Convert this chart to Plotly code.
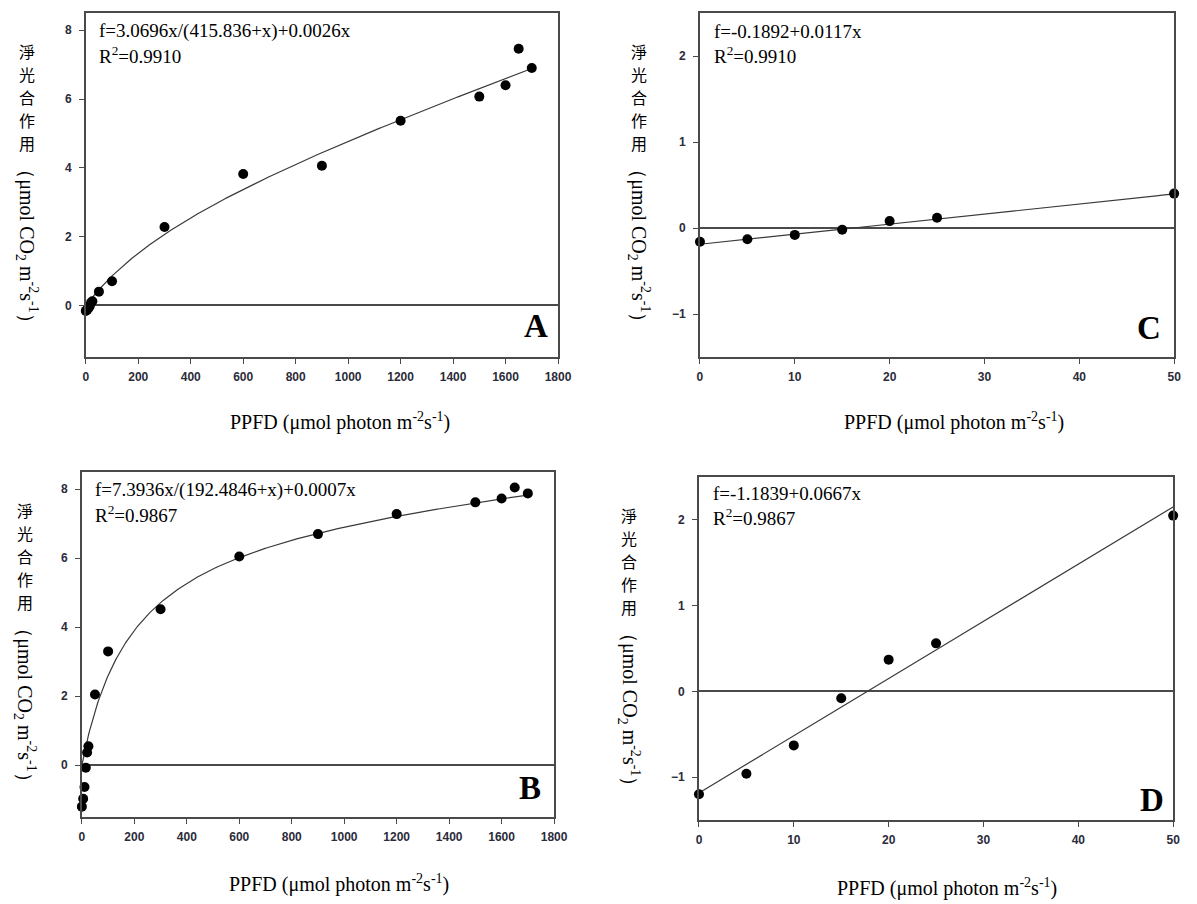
import numpy as np
import plotly.graph_objects as go

W, H = 1197, 904

# ---------------- data ----------------
ppfd_full = [0, 5, 10, 15, 20, 25, 50, 100, 300, 600, 900, 1200, 1500, 1600, 1650, 1700]
ppfd_low = [0, 5, 10, 15, 20, 25, 50]

A_y = [-0.16, -0.13, -0.08, -0.02, 0.08, 0.12, 0.40, 0.70, 2.28, 3.82, 4.06, 5.37, 6.07, 6.40, 7.46, 6.90]
B_y = [-1.20, -0.97, -0.63, -0.07, 0.37, 0.55, 2.05, 3.30, 4.52, 6.05, 6.70, 7.28, 7.62, 7.73, 8.05, 7.88]
C_y = [-0.16, -0.13, -0.08, -0.02, 0.08, 0.12, 0.40]
D_y = [-1.20, -0.96, -0.63, -0.08, 0.37, 0.56, 2.05]

# fitted model parameters (as printed on the chart)
A_fit = (3.0696, 415.836, 0.0026)   # f = a x /(b + x) + c x
B_fit = (7.3936, 192.4846, 0.0007)
C_fit = (-0.1892, 0.0117)           # f = a + b x
D_fit = (-1.1839, 0.0667)

eq_text = {
    "A": ("f=3.0696x/(415.836+x)+0.0026x", "R<sup>2</sup>=0.9910"),
    "B": ("f=7.3936x/(192.4846+x)+0.0007x", "R<sup>2</sup>=0.9867"),
    "C": ("f=-0.1892+0.0117x", "R<sup>2</sup>=0.9910"),
    "D": ("f=-1.1839+0.0667x", "R<sup>2</sup>=0.9867"),
}

x_big_ticks = [0, 200, 400, 600, 800, 1000, 1200, 1400, 1600, 1800]
y_big_ticks = [0, 2, 4, 6, 8]
x_small_ticks = [0, 10, 20, 30, 40, 50]
y_small_ticks = [-1, 0, 1, 2]

# ---------------- layout geometry (pixels) ----------------
boxes = {
    "A": (84, 13, 563, 357),
    "B": (80, 472, 559, 817),
    "C": (707, 13, 1188, 357),
    "D": (706, 477, 1187, 820),
}

def px(x):
    return x / W

def py(y):
    return 1 - y / H

serif = "Liberation Serif, Times New Roman, serif"
sans = "Arial, Liberation Sans, sans-serif"
cjk = "Noto Sans CJK TC, Noto Sans CJK SC, sans-serif"
axis_col = "#4a4a4a"
tick_col = "#2b2b3a"

fig = go.Figure()

panels = [
    ("A", 1, ppfd_full, A_y, "mm", A_fit, [0, 1800], [-1.5, 8.5], x_big_ticks, y_big_ticks),
    ("B", 2, ppfd_full, B_y, "mm", B_fit, [0, 1800], [-1.5, 8.5], x_big_ticks, y_big_ticks),
    ("C", 3, ppfd_low, C_y, "lin", C_fit, [0, 50], [-1.5, 2.5], x_small_ticks, y_small_ticks),
    ("D", 4, ppfd_low, D_y, "lin", D_fit, [0, 50], [-1.5, 2.5], x_small_ticks, y_small_ticks),
]

layout_axes = {}
annotations = []

for name, i, xs, ys, kind, par, xr, yr, xt, yt in panels:
    xa = "x" if i == 1 else f"x{i}"
    ya = "y" if i == 1 else f"y{i}"
    xmax = max(xs)
    xc = np.linspace(0, xmax, 400)
    if kind == "mm":
        a, b, c = par
        yc = a * xc / (b + xc) + c * xc
    else:
        a, b = par
        yc = a + b * xc
    fig.add_trace(go.Scatter(x=xc, y=yc, mode="lines", xaxis=xa, yaxis=ya,
                             line=dict(color="#3a3a3a", width=1.2), showlegend=False,
                             hoverinfo="skip"))
    fig.add_trace(go.Scatter(x=xs, y=ys, mode="markers", xaxis=xa, yaxis=ya,
                             marker=dict(color="black", size=10), showlegend=False,
                             cliponaxis=False))

    l, t, r, bt = boxes[name]
    xkey = "xaxis" if i == 1 else f"xaxis{i}"
    ykey = "yaxis" if i == 1 else f"yaxis{i}"
    layout_axes[xkey] = dict(
        domain=[px(l), px(r)], anchor=ya, range=xr, tickvals=xt,
        showgrid=False, zeroline=False, showline=True, linecolor=axis_col, linewidth=1.6,
        mirror=True, ticks="outside", ticklen=5, tickwidth=1.3, tickcolor=axis_col,
        tickfont=dict(family=sans, size=12, color=tick_col, weight="bold"),
        ticklabelstandoff=3,
    )
    layout_axes[ykey] = dict(
        domain=[py(bt), py(t)], anchor=xa, range=yr, tickvals=yt,
        showgrid=False, zeroline=True, zerolinecolor=axis_col, zerolinewidth=1.6,
        showline=True, linecolor=axis_col, linewidth=1.6,
        mirror=True, ticks="outside", ticklen=5, tickwidth=1.3, tickcolor=axis_col,
        tickfont=dict(family=sans, size=12, color=tick_col, weight="bold"),
        ticklabelstandoff=5,
    )

def ann(x, y, text, size, family, xanchor="center", yanchor="middle", angle=0, bold=False):
    annotations.append(dict(
        x=px(x), y=py(y), xref="paper", yref="paper", text=text, showarrow=False,
        xanchor=xanchor, yanchor=yanchor, textangle=angle,
        font=dict(family=family, size=size, color="black", weight="bold" if bold else "normal"),
    ))

# equations
eq_pos = {"A": (95, 31, 55), "B": (91, 490, 514), "C": (719, 31, 55), "D": (718, 493, 517)}
for k, (x0, y1, y2) in eq_pos.items():
    ann(x0, y1, eq_text[k][0], 19, serif, xanchor="left")
    ann(x0, y2, eq_text[k][1], 19, serif, xanchor="left")

# panel letters
for k, (xx, yy) in {"A": (541, 326), "B": (535, 788), "C": (1163, 328), "D": (1166, 800)}.items():
    ann(xx, yy, k, 33, serif, bold=True)

# x-axis titles
xtitle = "PPFD (μmol photon m<sup>-2</sup>s<sup>-1</sup>)"
for xx, yy in [(342, 421), (341, 883), (965, 421), (958, 887)]:
    ann(xx, yy, xtitle, 20, serif)

# y-axis titles: stacked CJK characters + rotated unit part
cjk_chars = list("淨光合作用")
unit_txt = "（μmol CO<sub>2</sub> m<sup>-2</sup>s<sup>-1</sup>）"
pitch = 23
for xx, yc, yu in [(24, 97, 246), (22, 556, 705), (645, 97, 246), (635, 561, 710)]:
    y0 = yc - pitch * (len(cjk_chars) - 1) / 2
    for j, ch in enumerate(cjk_chars):
        ann(xx, y0 + j * pitch, ch, 16, cjk)
    ann(xx, yu, unit_txt, 20, serif, angle=90)

fig.update_layout(
    width=W, height=H, margin=dict(l=0, r=0, t=0, b=0),
    paper_bgcolor="white", plot_bgcolor="white",
    annotations=annotations, showlegend=False,
    **layout_axes,
)

fig.write_html("out.html")
